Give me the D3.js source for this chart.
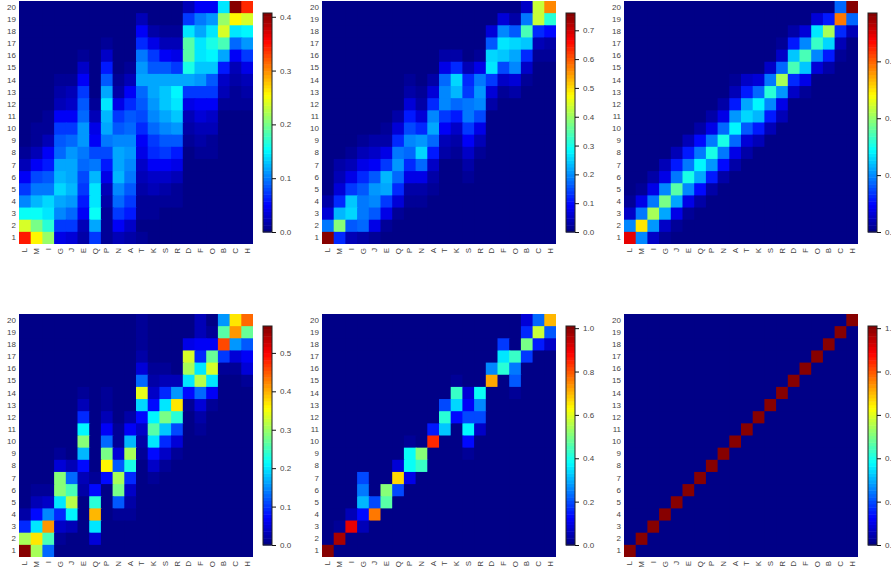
<!DOCTYPE html>
<html>
<head>
<meta charset="utf-8">
<script src="https://cdn.jsdelivr.net/npm/d3@7"></script>
<style>
  html, body { margin: 0; padding: 0; background: #fff; overflow: hidden; }
  svg { display: block; }
  text { font-family: "Liberation Sans", sans-serif; }
  .cells { filter: blur(0.45px); }
</style>
</head>
<body>
<svg id="chart" width="891" height="570"></svg>
<script>
// residue order along x, bin numbers along y (listed top row first)
const residues = ["L","M","I","G","J","E","Q","P","N","A","T","K","S","R","D","F","O","B","C","H"];
const bins = [20,19,18,17,16,15,14,13,12,11,10,9,8,7,6,5,4,3,2,1];

// every matrix row follows the residues order, rows follow bins
const panelA = [
  [0,0,0,0,0,0,0,0,0,0,.006,.003,.003,.003,.025,.05,.05,.14,.41,.34],
  [0,0,0,0,0,0,0,0,0,0,.02,.004,.004,.004,.07,.1,.11,.21,.26,.24],
  [0,0,0,0,0,0,0,0,0,0,.05,.015,.01,.01,.14,.12,.14,.24,.14,.15],
  [0,0,0,0,0,.003,.002,.008,0,0,.065,.04,.025,.02,.19,.14,.16,.18,.09,.11],
  [0,0,0,.002,.002,.01,.002,.03,.003,.004,.1,.07,.05,.04,.19,.14,.15,.12,.05,.07],
  [0,0,0,.002,.002,.03,.004,.06,.005,.01,.11,.085,.085,.075,.16,.13,.13,.06,.02,.04],
  [0,0,0,.01,.01,.05,.004,.085,.01,.025,.115,.115,.12,.12,.12,.11,.085,.03,.015,.02],
  [0,0,0,.015,.02,.07,.004,.115,.015,.045,.095,.12,.13,.15,.07,.075,.07,.02,.01,.015],
  [0,0,.004,.025,.03,.085,.01,.14,.04,.065,.085,.11,.13,.145,.04,.05,.05,.01,.007,.008],
  [.002,.003,.008,.045,.05,.095,.025,.125,.07,.085,.08,.105,.12,.13,.02,.035,.03,.004,.002,.002],
  [.002,.008,.012,.07,.07,.11,.04,.115,.085,.095,.065,.09,.105,.11,.015,.025,.02,.002,0,0],
  [.005,.012,.025,.085,.09,.11,.05,.1,.105,.105,.05,.075,.085,.085,.008,.015,.012,0,0,0],
  [.012,.025,.045,.09,.11,.1,.08,.08,.12,.11,.04,.065,.07,.06,.005,.01,.008,0,0,0],
  [.025,.05,.06,.115,.115,.09,.1,.06,.115,.105,.03,.045,.045,.04,.004,.006,.005,0,0,0],
  [.05,.08,.085,.125,.12,.08,.125,.04,.125,.1,.02,.03,.03,.02,.003,.004,.003,0,0,0],
  [.07,.1,.1,.135,.125,.07,.14,.025,.105,.085,.015,.02,.015,.012,.002,.002,.002,0,0,0],
  [.105,.125,.135,.115,.11,.06,.145,.015,.09,.07,.012,.012,.01,.008,0,0,0,0,0,0],
  [.155,.155,.14,.105,.09,.045,.155,.01,.07,.06,.008,.007,.006,.004,0,0,0,0,0,0],
  [.24,.2,.17,.075,.07,.02,.12,.008,.045,.03,.006,.004,.002,0,0,0,0,0,0,0],
  [.345,.26,.215,.04,.035,.015,.07,.008,.02,.015,.008,.002,0,0,0,0,0,0,0,0]
];

const panelB = [
  [0,0,0,0,0,0,0,0,0,0,0,0,0,0,0,.01,.01,.05,.43,.56],
  [0,0,0,0,0,0,0,0,0,0,0,0,0,0,.01,.06,.03,.18,.43,.32],
  [0,0,0,0,0,0,0,0,0,0,0,0,0,0,.07,.19,.16,.34,.13,.1],
  [0,0,0,0,0,0,0,0,0,0,.01,.01,0,0,.16,.27,.25,.24,.04,.03],
  [0,0,0,0,0,0,0,0,0,0,.03,.035,.01,.02,.25,.24,.22,.13,.02,.015],
  [0,0,0,0,0,0,0,0,0,.01,.08,.13,.04,.08,.27,.15,.19,.05,.005,.004],
  [0,0,0,0,0,0,0,.02,.01,.03,.17,.25,.12,.18,.14,.05,.07,.02,0,0],
  [0,0,0,0,0,0,0,.025,.015,.07,.2,.23,.14,.21,.06,.02,.03,.006,0,0],
  [0,0,0,0,0,0,.006,.06,.03,.13,.19,.17,.18,.19,.03,.01,.01,0,0,0],
  [0,0,0,0,0,0,.03,.11,.07,.19,.14,.11,.18,.15,.01,.003,0,0,0,0],
  [0,0,0,0,.01,.012,.07,.15,.13,.22,.09,.05,.14,.08,0,0,0,0,0,0],
  [0,0,0,.012,.025,.035,.12,.19,.21,.17,.04,.025,.09,.04,0,0,0,0,0,0],
  [0,.005,.02,.04,.05,.08,.18,.17,.26,.11,.025,.015,.05,.02,0,0,0,0,0,0],
  [0,.025,.04,.08,.085,.14,.21,.13,.17,.05,.01,.01,.025,.01,0,0,0,0,0,0],
  [.005,.04,.08,.12,.155,.23,.17,.075,.08,.03,.006,.004,.012,.008,0,0,0,0,0,0],
  [.006,.07,.14,.16,.21,.22,.12,.03,.03,.012,0,0,0,0,0,0,0,0,0,0],
  [.03,.12,.24,.18,.2,.14,.06,.015,.015,0,0,0,0,0,0,0,0,0,0,0],
  [.06,.23,.26,.18,.16,.08,.02,.008,.005,0,0,0,0,0,0,0,0,0,0,0],
  [.18,.38,.16,.17,.08,.02,.008,0,0,0,0,0,0,0,0,0,0,0,0,0],
  [.76,.12,.04,.03,.02,.006,.003,0,0,0,0,0,0,0,0,0,0,0,0,0]
];

const panelC = [
  [0,0,0,0,0,0,0,0,0,0,0,0,0,0,0,0,0,0,.18,.77],
  [0,0,0,0,0,0,0,0,0,0,0,0,0,0,0,.01,.07,.12,.58,.18],
  [0,0,0,0,0,0,0,0,0,0,0,0,0,0,.03,.07,.27,.42,.13,.04],
  [0,0,0,0,0,0,0,0,0,0,0,0,0,.015,.12,.2,.33,.26,.04,.008],
  [0,0,0,0,0,0,0,0,0,0,0,0,.01,.05,.25,.34,.2,.12,.015,.004],
  [0,0,0,0,0,0,0,0,0,.004,.008,.012,.05,.18,.34,.25,.07,.03,.004,0],
  [0,0,0,0,0,0,0,0,0,.02,.05,.07,.19,.41,.13,.08,.01,.004,0,0],
  [0,0,0,0,0,0,0,0,.01,.04,.12,.17,.32,.21,.05,.02,0,0,0,0],
  [0,0,0,0,0,0,0,.006,.03,.11,.22,.28,.2,.08,.012,.005,0,0,0,0],
  [0,0,0,0,0,0,.01,.03,.08,.21,.26,.23,.11,.04,0,0,0,0,0,0],
  [0,0,0,0,0,.012,.03,.08,.18,.28,.16,.12,.04,.012,0,0,0,0,0,0],
  [0,0,0,0,.01,.04,.1,.19,.31,.17,.07,.04,.012,0,0,0,0,0,0,0],
  [0,0,0,.008,.04,.12,.19,.31,.19,.08,.025,.012,0,0,0,0,0,0,0,0],
  [0,0,.01,.04,.11,.19,.28,.21,.1,.03,.005,0,0,0,0,0,0,0,0,0],
  [0,.008,.03,.08,.19,.31,.22,.11,.03,.008,0,0,0,0,0,0,0,0,0,0],
  [.005,.02,.08,.2,.35,.2,.1,.025,.008,0,0,0,0,0,0,0,0,0,0,0],
  [.02,.08,.19,.38,.22,.08,.025,.008,0,0,0,0,0,0,0,0,0,0,0,0],
  [.05,.19,.42,.22,.08,.02,.005,0,0,0,0,0,0,0,0,0,0,0,0,0],
  [.2,.5,.21,.06,.02,.004,0,0,0,0,0,0,0,0,0,0,0,0,0,0],
  [.69,.2,.06,.015,.006,0,0,0,0,0,0,0,0,0,0,0,0,0,0,0]
];

const panelD = [
  [0,0,0,0,0,0,0,0,0,0,.01,0,0,0,0,.03,.008,.16,.37,.44],
  [0,0,0,0,0,0,0,0,0,0,.012,0,0,0,0,.03,.01,.26,.41,.27],
  [0,0,0,0,0,0,0,0,0,0,.015,0,0,0,.06,.07,.07,.46,.16,.12],
  [0,0,0,0,0,0,0,0,0,0,.02,0,.005,0,.33,.09,.27,.1,.05,.07],
  [0,0,0,0,0,0,0,0,0,0,.05,.01,.015,.006,.31,.2,.33,.012,.012,.05],
  [0,0,0,0,0,0,0,0,0,0,.13,.02,.03,.03,.2,.32,.2,.005,.005,.015],
  [0,0,0,0,0,.012,0,.01,0,0,.34,.04,.09,.16,.08,.13,.07,0,0,.008],
  [0,0,0,0,0,.03,0,.015,0,.006,.19,.08,.2,.37,.012,.05,.015,0,0,0],
  [0,0,0,0,0,.09,0,.03,0,.02,.08,.21,.28,.24,.005,.02,.004,0,0,0],
  [0,0,0,0,0,.21,0,.07,.01,.07,.04,.26,.18,.11,.002,.01,0,0,0,0],
  [0,0,0,0,0,.29,0,.13,.015,.17,.02,.2,.09,.05,0,0,0,0,0,0],
  [0,0,0,.015,.005,.17,0,.28,.05,.31,.01,.08,.04,.012,0,0,0,0,0,0],
  [0,0,0,.05,.03,.08,0,.36,.12,.23,.006,.04,.015,0,0,0,0,0,0,0],
  [0,.006,.004,.29,.13,.03,.015,.08,.31,.09,.004,.015,.007,0,0,0,0,0,0,0],
  [0,.015,.01,.29,.25,.02,.08,.006,.28,.04,0,.003,0,0,0,0,0,0,0,0],
  [.002,.03,.04,.2,.32,.006,.24,0,.12,.02,0,0,0,0,0,0,0,0,0,0],
  [.02,.08,.15,.09,.21,.004,.4,0,.015,.01,0,0,0,0,0,0,0,0,0,0],
  [.09,.2,.41,.04,.03,0,.2,0,.003,.006,0,0,0,0,0,0,0,0,0,0],
  [.31,.37,.25,.012,.008,0,.05,0,0,0,0,0,0,0,0,0,0,0,0,0],
  [.57,.31,.13,0,0,0,0,0,0,0,0,0,0,0,0,0,0,0,0,0]
];

const panelE = [
  [0,0,0,0,0,0,0,0,0,0,0,0,0,0,0,0,0,.08,.23,.7],
  [0,0,0,0,0,0,0,0,0,0,0,0,0,0,0,0,0,.16,.58,.22],
  [0,0,0,0,0,0,0,0,0,0,0,0,0,0,0,.18,0,.5,.15,.07],
  [0,0,0,0,0,0,0,0,0,0,0,0,0,0,0,.35,.43,.18,0,0],
  [0,0,0,0,0,0,0,0,0,0,0,0,0,0,.26,.42,.24,0,0,0],
  [0,0,0,0,0,0,0,0,0,0,0,.03,0,0,.72,0,.22,0,0,0],
  [0,0,0,0,0,0,0,0,0,0,0,.43,.08,.39,0,0,.03,0,0,0],
  [0,0,0,0,0,0,0,0,0,0,.2,.34,.12,.26,0,0,0,0,0,0],
  [0,0,0,0,0,0,0,0,0,0,.42,.14,.2,.19,0,0,0,0,0,0],
  [0,0,0,0,0,0,0,0,0,.15,.33,0,.37,.07,0,0,0,0,0,0],
  [0,0,0,0,0,0,0,.03,0,.84,0,0,.14,0,0,0,0,0,0,0],
  [0,0,0,0,0,0,0,.39,.51,0,0,0,.03,0,0,0,0,0,0,0],
  [0,0,0,0,0,0,.08,.38,.43,0,0,0,0,0,0,0,0,0,0,0],
  [0,0,0,.2,0,0,.67,.1,0,0,0,0,0,0,0,0,0,0,0,0],
  [0,0,0,.24,0,.52,.2,0,0,0,0,0,0,0,0,0,0,0,0,0],
  [0,0,0,.3,.2,.47,0,0,0,0,0,0,0,0,0,0,0,0,0,0],
  [0,0,.06,.13,.77,0,0,0,0,0,0,0,0,0,0,0,0,0,0,0],
  [0,.02,.9,.05,0,0,0,0,0,0,0,0,0,0,0,0,0,0,0,0],
  [0,.97,0,.015,0,0,0,0,0,0,0,0,0,0,0,0,0,0,0,0],
  [1.01,0,0,0,0,0,0,0,0,0,0,0,0,0,0,0,0,0,0,0]
];

const panelF = [
  [0,0,0,0,0,0,0,0,0,0,0,0,0,0,0,0,0,0,0,1],
  [0,0,0,0,0,0,0,0,0,0,0,0,0,0,0,0,0,0,1,0],
  [0,0,0,0,0,0,0,0,0,0,0,0,0,0,0,0,0,1,0,0],
  [0,0,0,0,0,0,0,0,0,0,0,0,0,0,0,0,1,0,0,0],
  [0,0,0,0,0,0,0,0,0,0,0,0,0,0,0,1,0,0,0,0],
  [0,0,0,0,0,0,0,0,0,0,0,0,0,0,1,0,0,0,0,0],
  [0,0,0,0,0,0,0,0,0,0,0,0,0,1,0,0,0,0,0,0],
  [0,0,0,0,0,0,0,0,0,0,0,0,1,0,0,0,0,0,0,0],
  [0,0,0,0,0,0,0,0,0,0,0,1,0,0,0,0,0,0,0,0],
  [0,0,0,0,0,0,0,0,0,0,1,0,0,0,0,0,0,0,0,0],
  [0,0,0,0,0,0,0,0,0,1,0,0,0,0,0,0,0,0,0,0],
  [0,0,0,0,0,0,0,0,1,0,0,0,0,0,0,0,0,0,0,0],
  [0,0,0,0,0,0,0,1,0,0,0,0,0,0,0,0,0,0,0,0],
  [0,0,0,0,0,0,1,0,0,0,0,0,0,0,0,0,0,0,0,0],
  [0,0,0,0,0,1,0,0,0,0,0,0,0,0,0,0,0,0,0,0],
  [0,0,0,0,1,0,0,0,0,0,0,0,0,0,0,0,0,0,0,0],
  [0,0,0,1,0,0,0,0,0,0,0,0,0,0,0,0,0,0,0,0],
  [0,0,1,0,0,0,0,0,0,0,0,0,0,0,0,0,0,0,0,0],
  [0,1,0,0,0,0,0,0,0,0,0,0,0,0,0,0,0,0,0,0],
  [1,0,0,0,0,0,0,0,0,0,0,0,0,0,0,0,0,0,0,0]
];

// colorbar top of scale and tick values per panel
const maxima = [0.407, 0.76, 0.77, 0.57, 1.01, 1.01];
const tickSets = [
  [0, 0.1, 0.2, 0.3, 0.4],
  [0, 0.1, 0.2, 0.3, 0.4, 0.5, 0.6, 0.7],
  [0, 0.2, 0.4, 0.6],
  [0, 0.1, 0.2, 0.3, 0.4, 0.5],
  [0, 0.2, 0.4, 0.6, 0.8, 1.0],
  [0, 0.2, 0.4, 0.6, 0.8, 1.0]
];
const matrices = [panelA, panelB, panelC, panelD, panelE, panelF];

const plotW = 234, plotH = 243;
const lefts = [19, 322, 624];
const tops = [1, 314];
const barW = 9, barH = 219, barGap = 244, barDrop = 12;
const levels = 64;
const textColor = "#444";

// 64 level jet lookup, same steps the colorbar shows
function jet(t) {
  const i = Math.min(levels - 1, Math.floor(t * levels));
  const u = (i + 0.5) / levels;
  const ch = k => Math.round(255 * Math.max(0, Math.min(1, 1.5 - Math.abs(4 * u - k))));
  return `rgb(${ch(3)},${ch(2)},${ch(1)})`;
}

const svg = d3.select("#chart");
const x = d3.scaleBand().domain(residues).range([0, plotW]);
const y = d3.scaleBand().domain(bins).range([0, plotH]);

matrices.forEach((matrix, p) => {
  const left = lefts[p % 3], top = tops[Math.floor(p / 3)];
  const g = svg.append("g").attr("transform", `translate(${left},${top})`);
  const vmax = maxima[p];

  const cells = [];
  matrix.forEach((row, r) => row.forEach((v, c) => cells.push({ r, c, v })));

  // cells overlap by a pixel to the right and down so no seams show, last row and column stay in bounds
  g.append("g").attr("class", "cells")
    .selectAll("rect")
    .data(cells)
    .join("rect")
    .attr("x", d => x(residues[d.c]))
    .attr("y", d => y(bins[d.r]))
    .attr("width", d => x.bandwidth() + (d.c < 19 ? 1 : 0))
    .attr("height", d => y.bandwidth() + (d.r < 19 ? 1 : 0))
    .attr("fill", d => jet(d.v / vmax));

  // axes: labels only, no lines
  const yAxis = g.append("g")
    .call(d3.axisLeft(y).tickSize(0).tickPadding(3));
  yAxis.select(".domain").remove();
  yAxis.selectAll("text").attr("font-size", 8).attr("fill", textColor)
    .style("font-family", '"Liberation Sans", sans-serif');

  const xAxis = g.append("g").attr("transform", `translate(0,${plotH})`)
    .call(d3.axisBottom(x).tickSize(0));
  xAxis.select(".domain").remove();
  xAxis.selectAll("text")
    .attr("font-size", 8).attr("fill", textColor)
    .style("font-family", '"Liberation Sans", sans-serif')
    .attr("transform", "rotate(-90)")
    .attr("text-anchor", "end")
    .attr("x", -4).attr("y", 0).attr("dy", "0.32em");

  // colorbar
  const bar = g.append("g").attr("transform", `translate(${barGap},${barDrop})`);
  const barY = d3.scaleLinear().domain([0, vmax]).range([barH, 0]);
  bar.append("g").selectAll("rect")
    .data(d3.range(levels))
    .join("rect")
    .attr("x", 0)
    .attr("width", barW)
    .attr("y", i => barH * (1 - (i + 1) / levels))
    .attr("height", barH / levels + 0.5)
    .attr("fill", i => jet((i + 0.5) / levels));
  bar.append("rect")
    .attr("width", barW).attr("height", barH)
    .attr("fill", "none").attr("stroke", "#222").attr("stroke-width", 1);

  const barAxis = bar.append("g").attr("transform", `translate(${barW},0)`)
    .call(d3.axisRight(barY).tickValues(tickSets[p]).tickFormat(d3.format(".1f")).tickSize(4).tickPadding(4));
  barAxis.select(".domain").remove();
  barAxis.selectAll("line").attr("stroke", "#111");
  barAxis.selectAll("text").attr("font-size", 8).attr("fill", textColor)
    .style("font-family", '"Liberation Sans", sans-serif');
});
</script>
</body>
</html>
